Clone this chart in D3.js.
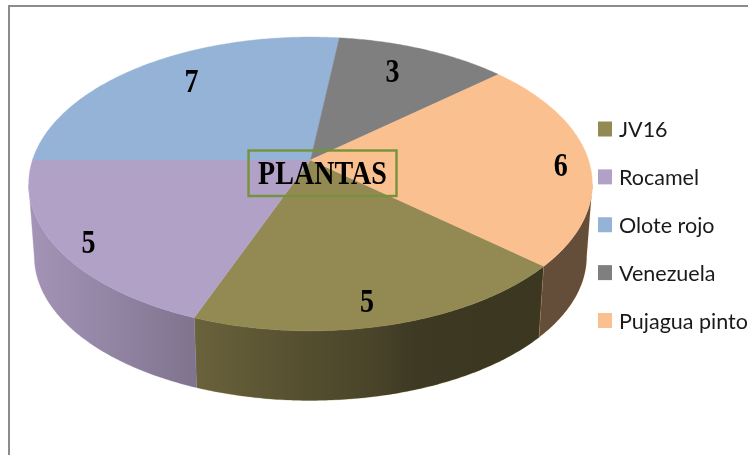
<!DOCTYPE html>
<html><head><meta charset="utf-8">
<script src="https://cdn.jsdelivr.net/npm/d3@7/dist/d3.min.js"></script>
<style>html,body{margin:0;padding:0;background:#fff;overflow:hidden}svg{display:block;filter:blur(0.35px)}</style>
</head><body>
<script>
const categories = ["JV16","Rocamel","Olote rojo","Venezuela","Pujagua pinto"];
const values = [5,5,7,3,6];
const colors = ["#938953","#b2a1c7","#95b3d7","#7f7f7f","#fac08f"];
const chartTitle = "PLANTAS";
const labelRadius = [0.875,0.89,0.7,0.7,0.9];
const labelDx = [-11,0,0,0,0];
const labelDy = [0,3,-10,-8,5];

const W=748,H=455;
const svg=d3.select("body").append("svg").attr("width",W).attr("height",H);
svg.append("rect").attr("width",W).attr("height",H).attr("fill","#fff");

// frame
svg.append("path").attr("d",d3.line()([[9,H],[9,6],[W,6]])).attr("fill","none").attr("stroke","#8c8c8c").attr("stroke-width",2);

const k=0.163;
const cx=310.5;
const sx=d3.scaleLinear().domain([-1,1]).range([cx-278,cx+278]);
const sy=d3.scaleLinear().domain([-1,1]).range([160+143,160-143]);
function project(a,r=1){
  const u=Math.sin(a)*r,v=Math.cos(a)*r,w=1+k*v;
  return [sx(u/w),sy(v/w)];
}
const depth=73,shrink=0.98;
function lower(p){return [sx(0)+(p[0]-sx(0))*shrink, sy(0)+(p[1]-sy(0))*shrink+depth];}

const total=d3.sum(values);
const firstAngle=1.5*Math.PI-(values[0]+values[1])/total*2*Math.PI;
const pie=d3.pie().sort(null).startAngle(firstAngle).endAngle(firstAngle+2*Math.PI);
const arcs=pie(values);
const line=d3.line();
function samples(d){
  const n=Math.ceil((d.endAngle-d.startAngle)/0.01);
  return d3.range(n+1).map(i=>d.startAngle+(d.endAngle-d.startAngle)*i/n);
}
// only the part of the wall that faces the viewer (the tangent points of the top ellipse)
const faces=a=>Math.cos(a)<=-k;

const defs=svg.append("defs");
const grad=defs.append("linearGradient").attr("id","shade").attr("gradientUnits","userSpaceOnUse")
  .attr("x1",28).attr("x2",592).attr("y1",0).attr("y2",0);
[[0,0.08],[0.15,0.18],[0.29,0.28],[0.48,0.42],[0.61,0.5],[0.68,0.58],[0.8,0.6],[1,0.6]].forEach(s=>
  grad.append("stop").attr("offset",s[0]).attr("stop-color","#000").attr("stop-opacity",s[1]));

const side=svg.append("g");
arcs.forEach((d,i)=>{
  const angles=samples(d).filter(faces);
  if(angles.length<2) return;
  const top=angles.map(a=>project(a));
  const poly=top.concat(top.slice().reverse().map(lower));
  const p=line(poly)+"Z";
  side.append("path").attr("d",p).attr("fill",colors[i]).attr("stroke",colors[i]).attr("stroke-width",0.4);
  side.append("path").attr("d",p).attr("fill","url(#shade)");
});

const topG=svg.append("g");
arcs.forEach((d,i)=>{
  const pts=[project(0,0)].concat(samples(d).map(a=>project(a)));
  topG.append("path").attr("d",line(pts)+"Z").attr("fill",colors[i]).attr("stroke",colors[i]).attr("stroke-width",0.4);
});

const serif="'Liberation Serif','Times New Roman',serif";
arcs.forEach((d,i)=>{
  const p=project((d.startAngle+d.endAngle)/2,labelRadius[i]);
  svg.append("text").attr("transform",`translate(${p[0]+labelDx[i]},${p[1]+labelDy[i]+11}) scale(0.85,1)`)
    .attr("text-anchor","middle").attr("font-family",serif).attr("font-weight","bold").attr("font-size",33).attr("fill","#000")
    .text(d.data);
});

// title box
svg.append("rect").attr("x",248.5).attr("y",150.5).attr("width",148).attr("height",45.5)
  .attr("fill","none").attr("stroke","#76923c").attr("stroke-width",2.4);
svg.append("text").attr("transform","translate(322.5,184) scale(0.85,1)").attr("text-anchor","middle")
  .attr("font-family",serif).attr("font-weight","bold").attr("font-size",33).attr("fill","#000").text(chartTitle);

// legend
const ly=d3.scalePoint().domain(categories).range([129,320.5]);
const leg=svg.append("g").selectAll("g").data(categories).join("g").attr("transform",d=>`translate(0,${ly(d)})`);
leg.append("rect").attr("x",598).attr("y",-7.5).attr("width",14).attr("height",15).attr("fill",(d,i)=>colors[i]);
leg.append("text").attr("x",619).attr("y",8).attr("font-family","Lato,'Open Sans',sans-serif").attr("font-size",21.5).attr("fill","#1a1a1a").text(d=>d);
</script>
</body></html>
